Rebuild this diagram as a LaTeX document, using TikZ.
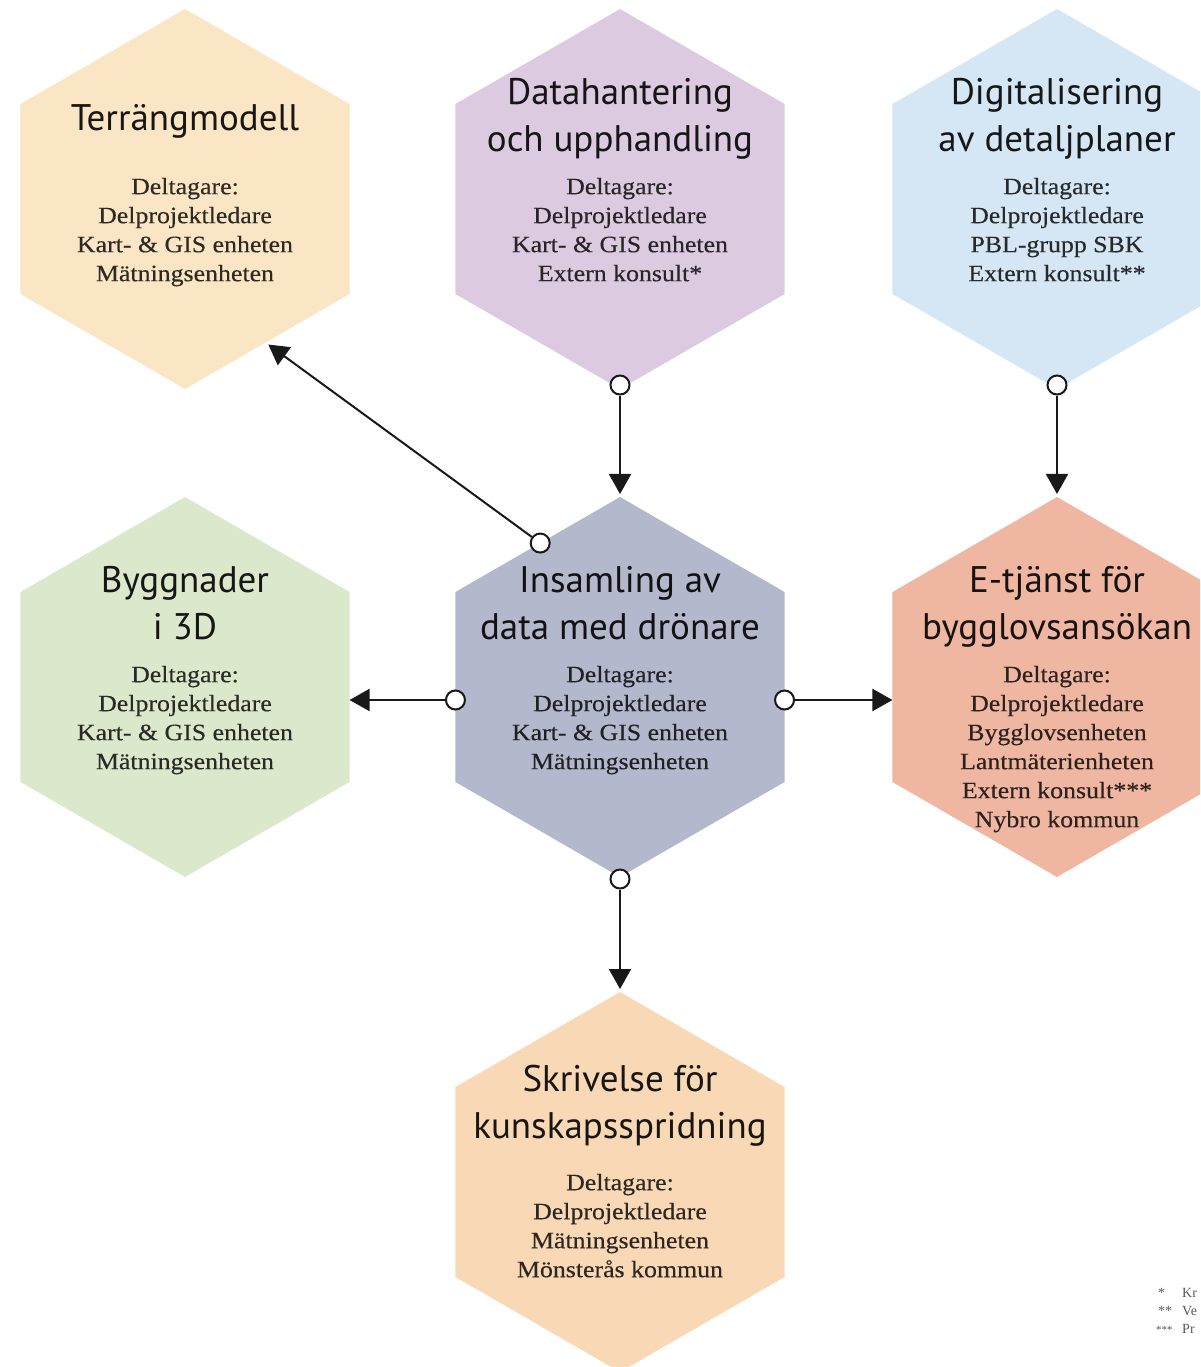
\documentclass[tikz,border=0pt]{standalone}
\usepackage{fontspec}
\usetikzlibrary{shapes.geometric,arrows.meta,calc}
\newfontfamily\ttlfam{PT Sans}
\newfontfamily\bodyfam[FakeStretch=1.1,FakeBold=0.3]{Liberation Serif}
\newfontfamily\fnfam{Liberation Serif}
\definecolor{cTerr}{HTML}{FAE6C4}
\definecolor{cData}{HTML}{DCCAE0}
\definecolor{cDig}{HTML}{D5E7F4}
\definecolor{cBygg}{HTML}{DCE8CB}
\definecolor{cIns}{HTML}{B4B8CC}
\definecolor{cEtj}{HTML}{EFB7A2}
\definecolor{cSkr}{HTML}{F9D8B6}
\tikzset{
  hex/.style={regular polygon, regular polygon sides=6, shape border rotate=30,
    minimum size=380pt, inner sep=0pt, outer sep=0pt, draw=none},
  ttl/.style={anchor=north, inner sep=0pt, align=center,
    font={\ttlfam\fontsize{37}{47}\selectfont}},
  body/.style={anchor=north, inner sep=0pt, align=center,
    font={\bodyfam\fontsize{23.5}{29}\selectfont}},
  dot/.style={circle, draw=black!90, fill=white, line width=2pt, minimum size=19pt, inner sep=0pt},
  conn/.style={line width=2pt, draw=black!90, -{Triangle[length=20pt,width=22pt]}},
  fn/.style={anchor=base west, inner sep=0pt, text=black!65,
    font={\fnfam\fontsize{14}{18}\selectfont}},
}
\newcommand{\tstrut}{\rule{0pt}{30pt}}
\newcommand{\bstrut}{\rule{0pt}{20pt}}
\begin{document}
\begin{tikzpicture}[x=1pt,y=-1pt]
\useasboundingbox (0,0) rectangle (1200,1367);
\clip (0,0) rectangle (1200,1367);
\fill[white] (0,0) rectangle (1200,1367);

% hexagons
\node[hex, fill=cTerr] (terr) at (185,199) {};
\node[hex, fill=cData] (dh)   at (620,199) {};
\node[hex, fill=cDig]  (dg)   at (1057,199) {};
\node[hex, fill=cBygg] (by)   at (185,687) {};
\node[hex, fill=cIns]  (c)    at (620,687) {};
\node[hex, fill=cEtj]  (et)   at (1057,687) {};
\node[hex, fill=cSkr]  (sk)   at (620,1182) {};

% titles (first baseline = y + 30)
\node[ttl, text=cTerr!10!black] (terr-t) at (185,100) {\tstrut Terrängmodell};
\node[ttl, text=cData!10!black] (dh-t) at (620,74) {\tstrut Datahantering\\och upphandling};
\node[ttl, text=cDig!10!black] (dg-t) at (1057,74) {\tstrut Digitalisering\\av detaljplaner};
\node[ttl, text=cBygg!10!black] (by-t) at (185,562) {\tstrut Byggnader\\i 3D};
\node[ttl, text=cIns!10!black] (c-t) at (620,562) {\tstrut Insamling av\\data med drönare};
\node[ttl, text=cEtj!10!black] (et-t) at (1057,562) {\tstrut E-tjänst för\\bygglovsansökan};
\node[ttl, text=cSkr!10!black] (sk-t) at (620,1061) {\tstrut Skrivelse för\\kunskapsspridning};

% bodies (first baseline = y + 20)
\node[body, text=cTerr!18!black] (terr-b) at (185,174) {\bstrut Deltagare:\\Delprojektledare\\Kart- \& GIS enheten\\Mätningsenheten};
\node[body, text=cData!18!black] (dh-b) at (620,174) {\bstrut Deltagare:\\Delprojektledare\\Kart- \& GIS enheten\\Extern konsult*};
\node[body, text=cDig!18!black] (dg-b) at (1057,174) {\bstrut Deltagare:\\Delprojektledare\\PBL-grupp SBK\\Extern konsult**};
\node[body, text=cBygg!18!black] (by-b) at (185,662) {\bstrut Deltagare:\\Delprojektledare\\Kart- \& GIS enheten\\Mätningsenheten};
\node[body, text=cIns!18!black] (c-b) at (620,662) {\bstrut Deltagare:\\Delprojektledare\\Kart- \& GIS enheten\\Mätningsenheten};
\node[body, text=cEtj!18!black] (et-b) at (1057,662) {\bstrut Deltagare:\\Delprojektledare\\Bygglovsenheten\\Lantmäterienheten\\Extern konsult***\\Nybro kommun};
\node[body, text=cSkr!18!black] (sk-b) at (620,1170) {\bstrut Deltagare:\\Delprojektledare\\Mätningsenheten\\Mönsterås kommun};

% connectors
\node[dot] (d1) at ([yshift=4pt]dh.270) {};
\draw[conn] (d1) -- ([yshift=3pt]c.90);
\node[dot] (d2) at ([yshift=4pt]dg.270) {};
\draw[conn] (d2) -- ([yshift=3pt]et.90);
\node[dot] (d3) at (c.119) {};
\draw[conn] (d3) -- ([xshift=1pt,yshift=-3pt]terr.-60);
\node[dot] (d4) at ([yshift=-13pt]c.180) {};
\draw[conn] (d4) -- (d4 -| by.0);
\node[dot] (d5) at ([yshift=-13pt]c.0) {};
\draw[conn] (d5) -- (d5 -| et.180);
\node[dot] (d6) at ([yshift=-2pt]c.270) {};
\draw[conn] (d6) -- ([yshift=3pt]sk.90);

% footnotes (cut off at the right edge)
\node[fn] (fn1) at (1158,1297) {\makebox[24pt][l]{*}Kr};
\node[fn] (fn2) at (1158,1315) {\makebox[24pt][l]{**}Ve};
\node[fn] (fn3) at (1156,1333) {\makebox[26pt][l]{\fontsize{11}{12}\selectfont ***}Pr};
\end{tikzpicture}
\end{document}
